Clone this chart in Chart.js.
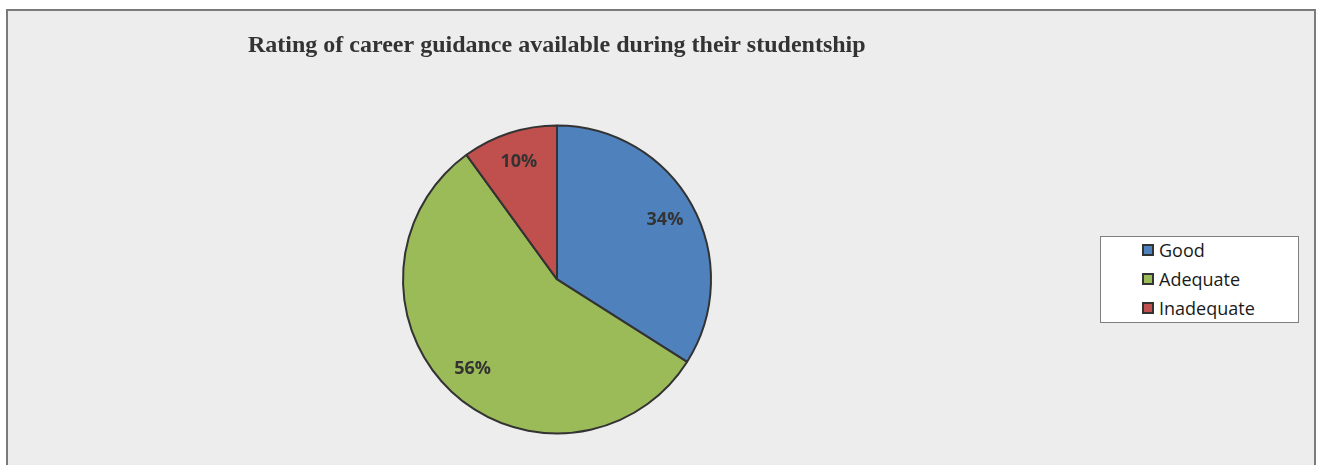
<!DOCTYPE html>
<html>
<head>
<meta charset="utf-8">
<script src="https://cdn.jsdelivr.net/npm/chart.js@4.4.1/dist/chart.umd.min.js"></script>
<style>
    body { margin: 0; background: #fff; }
    #wrap { position: relative; width: 1322px; height: 465px; overflow: hidden; }
    #grafico { position: absolute; left: 0; top: 0; }
    #leyenda {
        position: absolute; left: 1100px; top: 236px; width: 199px; height: 87px;
        box-sizing: border-box; border: 1px solid #7f7f7f; background: #fff;
        padding-left: 41px; font-family: "Open Sans", sans-serif; font-size: 18px; color: #1a1a1a;
    }
    .item { height: 29px; display: flex; align-items: center; }
    .item:first-child { margin-top: -2px; }
    .cuadro { width: 12px; height: 12px; box-sizing: border-box; border: 2px solid #333; margin-right: 5px; }
</style>
</head>
<body>
<div id="wrap">
    <canvas id="grafico" width="1322" height="465"></canvas>
    <div id="leyenda"></div>
</div>
<script>
var titulo = 'Rating of career guidance available during their studentship';
var categorias = ['Good', 'Adequate', 'Inadequate'];
var porcentajes = [34, 56, 10];
var colores = ['#4F81BD', '#9BBB59', '#C0504D'];

// fondo gris con el marco
var fondo = {
    id: 'fondo',
    beforeDraw: function (chart) {
        var ctx = chart.ctx;
        ctx.save();
        ctx.fillStyle = '#fff';
        ctx.fillRect(0, 0, chart.width, chart.height);
        ctx.fillStyle = '#EDEDED';
        ctx.fillRect(7, 10, 1308, chart.height);
        ctx.strokeStyle = '#7a7a7a';
        ctx.lineWidth = 2;
        ctx.beginPath();
        ctx.moveTo(7, chart.height + 2);
        ctx.lineTo(7, 10);
        ctx.lineTo(1315, 10);
        ctx.lineTo(1315, chart.height + 2);
        ctx.stroke();
        ctx.restore();
    }
};

// porcentajes dentro de cada porcion
var etiquetas = {
    id: 'etiquetas',
    afterDatasetsDraw: function (chart) {
        var ctx = chart.ctx;
        var meta = chart.getDatasetMeta(0);
        ctx.save();
        ctx.font = 'bold 18px "Open Sans", sans-serif';
        ctx.fillStyle = '#333';
        ctx.textAlign = 'center';
        ctx.textBaseline = 'middle';
        meta.data.forEach(function (arco, i) {
            var p = arco.getProps(['x', 'y', 'startAngle', 'endAngle', 'outerRadius'], true);
            var medio = (p.startAngle + p.endAngle) / 2;
            var r = p.outerRadius * 0.8;
            ctx.fillText(porcentajes[i] + '%', p.x + Math.cos(medio) * r, p.y + Math.sin(medio) * r);
        });
        ctx.restore();
    }
};

var ctx = document.getElementById('grafico').getContext('2d');
var miGrafico = new Chart(ctx, {
    type: 'pie',
    data: {
        labels: categorias,
        datasets: [{
            data: porcentajes,
            backgroundColor: colores,
            borderColor: '#333',
            borderWidth: 2,
            radius: 154
        }]
    },
    options: {
        responsive: false,
        animation: false,
        layout: { padding: { left: 248, right: 456, top: 31, bottom: 0 } },
        plugins: {
            legend: { display: false },
            tooltip: { enabled: false },
            title: {
                display: true,
                text: titulo,
                align: 'start',
                color: '#333',
                font: { family: '"Liberation Serif", serif', size: 24, weight: 'bold', lineHeight: 1.2 },
                padding: { top: 0, bottom: 34 }
            }
        }
    },
    plugins: [fondo, etiquetas]
});

// leyenda con recuadro
var leyenda = document.getElementById('leyenda');
for (var i = 0; i < categorias.length; i++) {
    var fila = document.createElement('div');
    fila.className = 'item';
    var cuadro = document.createElement('span');
    cuadro.className = 'cuadro';
    cuadro.style.background = colores[i];
    var texto = document.createElement('span');
    texto.textContent = categorias[i];
    fila.appendChild(cuadro);
    fila.appendChild(texto);
    leyenda.appendChild(fila);
}
</script>
</body>
</html>
